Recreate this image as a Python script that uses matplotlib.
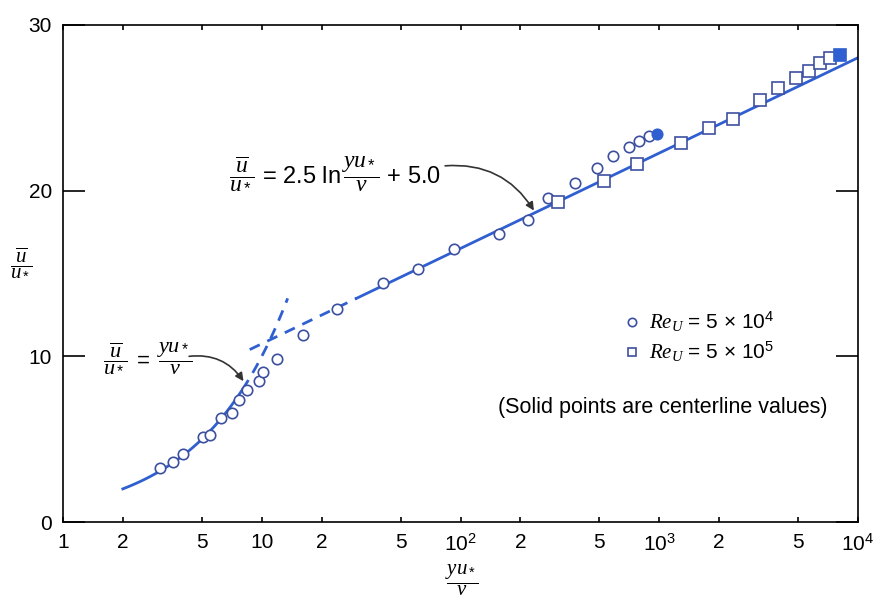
import numpy as np
import matplotlib
matplotlib.use("Agg")
import matplotlib.pyplot as plt

plt.rcParams['font.family'] = ['Liberation Sans', 'DejaVu Sans']
plt.rcParams['mathtext.fontset'] = 'custom'
plt.rcParams['mathtext.rm'] = 'Liberation Sans'
plt.rcParams['mathtext.it'] = 'Liberation Serif:italic'
plt.rcParams['mathtext.bf'] = 'Liberation Sans:bold'

# ---- data ----
circ_x = [3.09, 3.56, 4.03, 5.08, 5.49, 6.22, 7.06, 7.71, 8.43, 9.69, 10.2, 12.0,
          16.1, 24.0, 40.6, 60.9, 93.0, 156, 219, 275, 377, 484, 585, 702, 794, 891]
circ_y = [3.28, 3.62, 4.1, 5.15, 5.23, 6.3, 6.56, 7.36, 7.95, 8.53, 9.07, 9.82,
          11.28, 12.83, 14.4, 15.25, 16.48, 17.38, 18.2, 19.53, 20.44, 21.38, 22.09,
          22.62, 22.99, 23.28]
circ_center_x = [971]
circ_center_y = [23.44]

sq_x = [308, 527, 776, 1282, 1786, 2343, 3200, 3970, 4900, 5690, 6440, 7240]
sq_y = [19.3, 20.6, 21.6, 22.9, 23.8, 24.3, 25.45, 26.2, 26.8, 27.2, 27.7, 28.0]
sq_center_x = [8120]
sq_center_y = [28.2]

# law ranges
visc_solid = [2.0, 8.0]
visc_dash = [8.0, 13.5]
log_dash = [8.7, 30.0]
log_solid = [30.0, 10000.0]
kappa_inv = 2.5
B = 5.0

xtick_vals = [1, 2, 5, 10, 20, 50, 100, 200, 500, 1000, 2000, 5000, 10000]
xtick_labels = ['1', '2', '5', '10', '2', '5', r'$10^2$', '2', '5', r'$10^3$', '2', '5', r'$10^4$']
ytick_vals = [0, 10, 20, 30]

blue = '#2f5fd0'
mk_edge = '#3d50a0'

fig = plt.figure(figsize=(8.77, 6.01), dpi=100)
ax = fig.add_axes([63/877, 79/601, 795/877, 497/601])

ax.set_xscale('log')
ax.set_xlim(1, 1e4)
ax.set_ylim(0, 30)

# viscous sublayer
xs = np.logspace(np.log10(visc_solid[0]), np.log10(visc_solid[1]), 100)
ax.plot(xs, xs, color=blue, lw=2)
xs = np.logspace(np.log10(visc_dash[0]), np.log10(visc_dash[1]), 50)
ax.plot(xs, xs, color=blue, lw=2, ls=(0, (4, 3)))
# log law
xs = np.logspace(np.log10(log_dash[0]), np.log10(log_dash[1]), 50)
ax.plot(xs, kappa_inv*np.log(xs)+B, color=blue, lw=2, ls=(0, (4, 3)))
xs = np.logspace(np.log10(log_solid[0]), np.log10(log_solid[1]), 200)
ax.plot(xs, kappa_inv*np.log(xs)+B, color=blue, lw=2)

# points
ax.plot(circ_x, circ_y, 'o', ms=7.5, mfc='white', mec=mk_edge, mew=1.2, zorder=5)
ax.plot(circ_center_x, circ_center_y, 'o', ms=7.5, mfc=blue, mec=blue, mew=1.2, zorder=5)
ax.plot(sq_x, sq_y, 's', ms=8, mfc='white', mec=mk_edge, mew=1.2, zorder=5)
ax.plot(sq_center_x, sq_center_y, 's', ms=8, mfc=blue, mec=blue, mew=1.2, zorder=5)

# ticks
ax.set_xticks(xtick_vals)
ax.set_xticklabels(xtick_labels)
ax.xaxis.set_minor_locator(matplotlib.ticker.NullLocator())
for t, v in zip(ax.xaxis.get_major_ticks(), xtick_vals):
    if v in (1, 10, 100, 1000, 10000):
        t.tick1line.set_markersize(13)
        t.tick2line.set_markersize(13)
    else:
        t.tick1line.set_markersize(8)
        t.tick2line.set_markersize(8)
ax.set_yticks(ytick_vals)
ax.tick_params(axis='both', direction='in', labelsize=15, width=1.2, top=True, right=True, pad=8)
ax.tick_params(axis='y', length=16)
for sp in ax.spines.values():
    sp.set_linewidth(1.2)

# axis labels
fig.text(21/877, 1-262/601, r'$\dfrac{\overline{u}}{u_*}$', fontsize=15, ha='center', va='center')
fig.text(462/877, 1-580/601, r'$\dfrac{yu_*}{\nu}$', fontsize=15, ha='center', va='center')

# equations with arrows
ax.text(192/877, 1-357/601, r'$\dfrac{\overline{u}}{u_*}\ =\ \dfrac{yu_*}{\nu}$', fontsize=16,
        ha='right', va='center', transform=fig.transFigure)
ax.annotate('', xy=(8.09, 8.5), xytext=(4.31, 10.0),
            arrowprops=dict(arrowstyle='-|>', color='#333333', lw=1.2,
                            connectionstyle='arc3,rad=-0.3', shrinkA=0, shrinkB=0,
                            mutation_scale=12))
ax.text(441/877, 1-172/601, r'$\dfrac{\overline{u}}{u_*}$ = 2.5 ln$\,\dfrac{yu_*}{\nu}$ + 5.0', fontsize=17,
        ha='right', va='center', transform=fig.transFigure)
ax.annotate('', xy=(234, 18.8), xytext=(83.7, 21.5),
            arrowprops=dict(arrowstyle='-|>', color='#333333', lw=1.2,
                            connectionstyle='arc3,rad=-0.3', shrinkA=0, shrinkB=0,
                            mutation_scale=12))

# legend (manual)
ax.plot([0.716], [0.402], 'o', ms=6, mfc='white', mec=mk_edge, mew=1.2, transform=ax.transAxes)
ax.plot([0.716], [0.342], 's', ms=6, mfc='white', mec=mk_edge, mew=1.2, transform=ax.transAxes)
ax.text(0.737, 0.402, r'$Re_U$ = 5 $\times$ 10$^4$', fontsize=15, ha='left', va='center',
        transform=ax.transAxes)
ax.text(0.737, 0.342, r'$Re_U$ = 5 $\times$ 10$^5$', fontsize=15, ha='left', va='center',
        transform=ax.transAxes)
ax.text(0.547, 0.231, '(Solid points are centerline values)', fontsize=15.5, ha='left', va='center',
        transform=ax.transAxes)

fig.savefig('out.png', dpi=100)
